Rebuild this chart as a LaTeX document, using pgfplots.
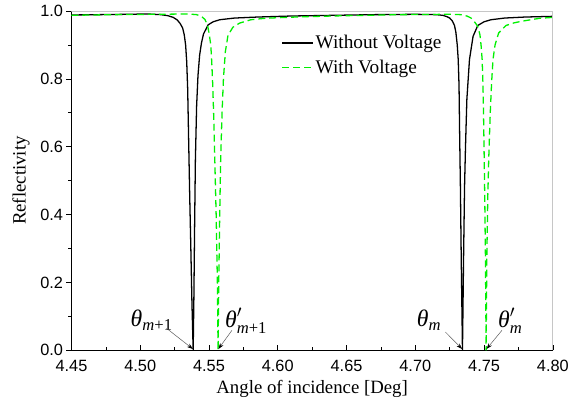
\documentclass[border=0pt]{standalone}
\usepackage{fontspec}
\setmainfont{Liberation Serif}
\newfontfamily\arial{Liberation Sans}
\usepackage{amsmath}
\usepackage{pgfplots}
\pgfplotsset{compat=1.18}
\usetikzlibrary{arrows.meta,calc}

\definecolor{vgreen}{RGB}{0,240,0}
\newcommand{\thl}[2]{\ensuremath{\text{\itshape θ}#1_{\text{\itshape #2}}}}

\begin{document}
\begin{tikzpicture}
\begin{axis}[
  scale only axis,
  width=485bp, height=342bp,
  xmin=4.45, xmax=4.80, ymin=0, ymax=1.0,
  axis lines=left, axis line style={-, black, line width=0.8pt},
  xtick={4.45,4.50,...,4.80}, ytick={0,0.2,...,1.0},
  minor tick num=1,
  xtick align=inside, ytick align=outside,
  major tick length=5bp, minor tick length=3bp,
  tick style={black, line width=0.6pt},
  x tick label style={yshift=-6bp, /pgf/number format/.cd, fixed, fixed zerofill, precision=2, assume math mode=true},
  y tick label style={/pgf/number format/.cd, fixed, fixed zerofill, precision=1, assume math mode=true},
  tick label style={font=\arial\fontsize{16.5}{16.5}\selectfont},
  xlabel={Angle of incidence [Deg]},
  ylabel={Reflectivity},
  xlabel style={yshift=-2bp},
  ylabel style={yshift=4bp},
  label style={font=\fontsize{19}{19}\selectfont},
  legend style={draw=none, fill=none, at={(rel axis cs:0.43,0.94)}, anchor=north west,
    font=\fontsize{19.5}{19.5}\selectfont, row sep=6bp},
  legend cell align=left,
  legend image code/.code={\draw[#1] (0bp,0bp) -- (31bp,0bp);},
]
\addplot[black, line width=1.3pt] coordinates {
(4.450,0.988)(4.470,0.989)(4.490,0.990)(4.505,0.991)(4.515,0.989)(4.520,0.986)
(4.524,0.981)(4.527,0.973)(4.529,0.963)(4.5308,0.950)(4.532,0.930)(4.533,0.900)
(4.5338,0.850)(4.5345,0.770)(4.5352,0.620)(4.5360,0.450)(4.5368,0.300)(4.5376,0.140)
(4.5385,0.000)(4.5390,0.150)(4.5395,0.350)(4.5401,0.560)(4.5410,0.720)(4.5420,0.810)
(4.5432,0.870)(4.5445,0.905)(4.5460,0.932)(4.5494,0.959)(4.553,0.968)(4.5578,0.974)
(4.5686,0.979)(4.5855,0.982)(4.610,0.985)(4.640,0.987)(4.670,0.989)(4.700,0.990)
(4.715,0.989)(4.720,0.987)(4.723,0.983)(4.725,0.979)(4.727,0.970)(4.7285,0.957)
(4.7295,0.937)(4.7305,0.900)(4.7312,0.857)(4.7318,0.780)(4.7322,0.650)(4.7328,0.480)
(4.7334,0.272)(4.7343,0.000)(4.7351,0.272)(4.7358,0.480)(4.7365,0.600)(4.7375,0.740)
(4.7394,0.857)(4.742,0.925)(4.7454,0.957)(4.750,0.968)(4.755,0.974)(4.765,0.979)
(4.780,0.982)(4.800,0.984)
};
\addlegendentry{Without Voltage}
\addplot[vgreen, line width=1.3pt, dash pattern=on 7bp off 4bp] coordinates {
(4.450,0.987)(4.480,0.989)(4.510,0.990)(4.535,0.991)(4.541,0.989)(4.5445,0.984)
(4.547,0.975)(4.5489,0.959)(4.550,0.935)(4.5513,0.900)(4.5520,0.850)(4.5527,0.784)
(4.5535,0.680)(4.5542,0.565)(4.5552,0.400)(4.5561,0.200)(4.5566,0.000)(4.5571,0.200)
(4.5578,0.400)(4.5585,0.565)(4.5595,0.700)(4.5605,0.800)(4.5619,0.880)(4.5638,0.928)
(4.5674,0.952)(4.5722,0.964)(4.5804,0.974)(4.590,0.978)(4.600,0.980)(4.620,0.983)
(4.650,0.986)(4.690,0.989)(4.725,0.990)(4.733,0.989)(4.7375,0.985)(4.7406,0.979)
(4.743,0.968)(4.7454,0.955)(4.747,0.930)(4.7478,0.900)(4.7486,0.857)(4.7492,0.784)
(4.7498,0.650)(4.7505,0.450)(4.7510,0.272)(4.7515,0.000)(4.7520,0.272)(4.7527,0.450)
(4.7534,0.565)(4.7545,0.700)(4.7555,0.790)(4.7565,0.857)(4.758,0.900)(4.7606,0.935)
(4.7659,0.957)(4.772,0.965)(4.778,0.970)(4.790,0.978)(4.800,0.981)
};
\addlegendentry{With Voltage}
% frame top and right in light gray
\draw[gray!45, line width=0.8pt] (rel axis cs:0,1) -- (rel axis cs:1,1) -- (rel axis cs:1,0);
% annotations
\node[font=\fontsize{24}{24}\selectfont] at (axis cs:4.5083,0.088) {\thl{}{m\textup{+1}}};
\node[font=\fontsize{24}{24}\selectfont] at (axis cs:4.5770,0.088) {\thl{'}{m\textup{+1}}};
\node[font=\fontsize{24}{24}\selectfont] at (axis cs:4.7100,0.088) {\thl{}{m}};
\node[font=\fontsize{24}{24}\selectfont] at (axis cs:4.7690,0.088) {\thl{'}{m}};
\draw[gray!70!black, line width=0.5pt, -{Stealth[length=6bp, width=4bp, black]}] (axis cs:4.5191,0.065) -- (axis cs:4.5383,0.004);
\draw[gray!70!black, line width=0.5pt, -{Stealth[length=6bp, width=4bp, black]}] (axis cs:4.5667,0.059) -- (axis cs:4.5568,0.004);
\draw[gray!70!black, line width=0.5pt, -{Stealth[length=6bp, width=4bp, black]}] (axis cs:4.7219,0.054) -- (axis cs:4.7341,0.004);
\draw[gray!70!black, line width=0.5pt, -{Stealth[length=6bp, width=4bp, black]}] (axis cs:4.7630,0.059) -- (axis cs:4.7518,0.004);
\end{axis}
\path ($(current axis.south west)+(-72bp,-55bp)$) rectangle ($(current axis.north east)+(15bp,11bp)$);
\end{tikzpicture}
\end{document}
